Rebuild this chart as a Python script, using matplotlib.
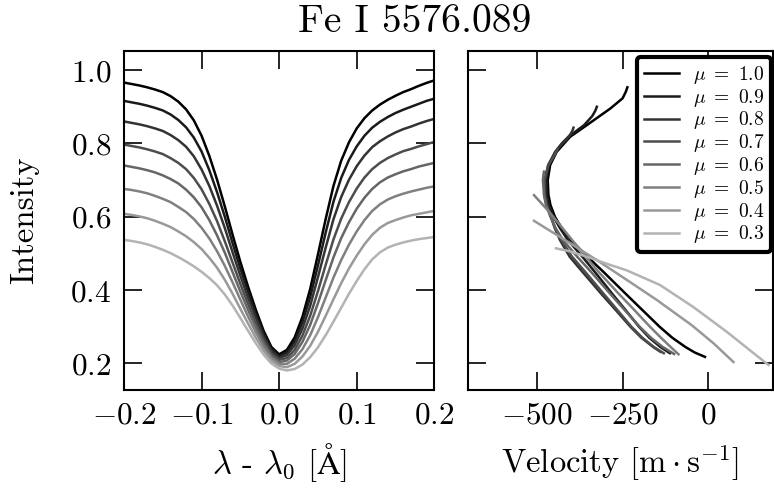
import matplotlib
matplotlib.use('Agg')
import matplotlib.pyplot as plt

plt.rcParams['font.family'] = ['cmr10', 'DejaVu Serif']
plt.rcParams['mathtext.fontset'] = 'cm'
plt.rcParams['axes.formatter.use_mathtext'] = True
plt.rcParams['axes.unicode_minus'] = True

# ---------------- data ----------------
mu_labels = ['1.0', '0.9', '0.8', '0.7', '0.6', '0.5', '0.4', '0.3']
gray_levels = [0.0, 0.1, 0.2, 0.3, 0.4, 0.5, 0.6, 0.7]

wl = [-0.20, -0.19, -0.18, -0.17, -0.16, -0.15, -0.14, -0.13, -0.12, -0.11,
      -0.10, -0.09, -0.08, -0.07, -0.06, -0.05, -0.04, -0.03, -0.02, -0.01,
      0.00, 0.01, 0.02, 0.03, 0.04, 0.05, 0.06, 0.07, 0.08, 0.09,
      0.10, 0.11, 0.12, 0.13, 0.14, 0.15, 0.16, 0.17, 0.18, 0.19, 0.20]

prof_10 = [0.966, 0.962, 0.958, 0.953, 0.947, 0.940, 0.929, 0.914, 0.893, 0.863,
           0.821, 0.766, 0.701, 0.628, 0.551, 0.477, 0.409, 0.346, 0.289, 0.245,
           0.225, 0.237, 0.271, 0.327, 0.403, 0.497, 0.594, 0.684, 0.753, 0.803,
           0.841, 0.869, 0.890, 0.906, 0.919, 0.930, 0.940, 0.948, 0.957, 0.965, 0.972]
prof_09 = [0.916, 0.912, 0.908, 0.903, 0.897, 0.890, 0.879, 0.864, 0.844, 0.816,
           0.778, 0.727, 0.667, 0.600, 0.528, 0.459, 0.395, 0.335, 0.281, 0.240,
           0.220, 0.230, 0.261, 0.312, 0.381, 0.467, 0.557, 0.641, 0.706, 0.755,
           0.792, 0.821, 0.843, 0.859, 0.872, 0.883, 0.892, 0.900, 0.908, 0.916, 0.922]
prof_08 = [0.860, 0.856, 0.852, 0.847, 0.841, 0.834, 0.823, 0.809, 0.791, 0.765,
           0.729, 0.684, 0.630, 0.569, 0.503, 0.439, 0.379, 0.324, 0.273, 0.234,
           0.215, 0.223, 0.250, 0.295, 0.357, 0.435, 0.516, 0.593, 0.654, 0.701,
           0.738, 0.767, 0.790, 0.806, 0.819, 0.830, 0.839, 0.846, 0.854, 0.861, 0.867]
prof_07 = [0.797, 0.793, 0.789, 0.784, 0.778, 0.771, 0.760, 0.747, 0.730, 0.706,
           0.675, 0.635, 0.588, 0.533, 0.475, 0.417, 0.362, 0.310, 0.263, 0.227,
           0.210, 0.215, 0.237, 0.276, 0.330, 0.397, 0.469, 0.538, 0.595, 0.640,
           0.677, 0.707, 0.730, 0.747, 0.760, 0.770, 0.779, 0.785, 0.792, 0.798, 0.804]
prof_06 = [0.740, 0.736, 0.732, 0.727, 0.721, 0.713, 0.703, 0.691, 0.674, 0.653,
           0.626, 0.591, 0.549, 0.502, 0.449, 0.396, 0.346, 0.298, 0.255, 0.221,
           0.204, 0.208, 0.226, 0.259, 0.305, 0.364, 0.427, 0.489, 0.542, 0.585,
           0.622, 0.652, 0.676, 0.694, 0.707, 0.716, 0.724, 0.730, 0.737, 0.742, 0.747]
prof_05 = [0.676, 0.673, 0.669, 0.664, 0.657, 0.649, 0.640, 0.627, 0.613, 0.594,
           0.570, 0.541, 0.506, 0.466, 0.421, 0.374, 0.328, 0.285, 0.245, 0.215,
           0.199, 0.199, 0.213, 0.239, 0.277, 0.326, 0.380, 0.434, 0.482, 0.524,
           0.560, 0.591, 0.616, 0.634, 0.647, 0.656, 0.663, 0.669, 0.674, 0.679, 0.683]
prof_04 = [0.608, 0.605, 0.601, 0.596, 0.589, 0.581, 0.572, 0.560, 0.547, 0.531,
           0.512, 0.488, 0.461, 0.428, 0.390, 0.349, 0.309, 0.270, 0.235, 0.208,
           0.193, 0.190, 0.199, 0.219, 0.248, 0.286, 0.330, 0.375, 0.419, 0.459,
           0.494, 0.525, 0.551, 0.570, 0.583, 0.591, 0.598, 0.604, 0.608, 0.612, 0.616]
prof_03 = [0.537, 0.534, 0.530, 0.525, 0.518, 0.510, 0.501, 0.490, 0.478, 0.465,
           0.450, 0.433, 0.413, 0.388, 0.358, 0.324, 0.289, 0.255, 0.224, 0.200,
           0.186, 0.181, 0.185, 0.197, 0.217, 0.244, 0.277, 0.314, 0.352, 0.390,
           0.425, 0.457, 0.484, 0.503, 0.516, 0.524, 0.530, 0.535, 0.539, 0.542, 0.545]
profiles = [prof_10, prof_09, prof_08, prof_07, prof_06, prof_05, prof_04, prof_03]

# bisectors: intensity levels and velocities [m/s]
bis_I_10 = [0.953, 0.940, 0.923, 0.895, 0.850, 0.818, 0.777, 0.741, 0.700, 0.660, 0.632, 0.600,
            0.570, 0.536, 0.491, 0.450, 0.391, 0.350, 0.300, 0.270, 0.245, 0.230, 0.218]
bis_v_10 = [-236, -241, -250, -286, -354, -403, -442, -461, -468, -466, -460, -447,
            -428, -400, -352, -306, -242, -197, -142, -105, -67, -40, -10]
bis_I_09 = [0.900, 0.890, 0.875, 0.850, 0.818, 0.800, 0.777, 0.741, 0.700, 0.660, 0.632,
            0.600, 0.570, 0.536, 0.491, 0.450, 0.391, 0.350, 0.300, 0.270, 0.245, 0.228]
bis_v_09 = [-325, -329, -338, -362, -408, -427, -446, -465, -472, -470, -464,
            -451, -433, -409, -367, -331, -281, -245, -202, -172, -140, -112]
bis_I_08 = [0.843, 0.835, 0.825, 0.810, 0.800, 0.777, 0.741, 0.700, 0.660, 0.632, 0.600,
            0.570, 0.536, 0.491, 0.450, 0.391, 0.350, 0.300, 0.270, 0.245, 0.232]
bis_v_08 = [-393, -396, -402, -414, -425, -446, -467, -476, -475, -469, -458,
            -448, -432, -404, -367, -313, -274, -227, -195, -161, -140]
bis_I_07 = [0.784, 0.775, 0.765, 0.750, 0.741, 0.700, 0.660, 0.632, 0.600, 0.570,
            0.536, 0.491, 0.450, 0.391, 0.350, 0.300, 0.270, 0.245, 0.228]
bis_v_07 = [-440, -444, -450, -460, -466, -478, -478, -472, -459, -446,
            -428, -397, -359, -306, -269, -224, -192, -159, -130]
bis_I_06 = [0.723, 0.710, 0.700, 0.660, 0.632, 0.600, 0.570, 0.536, 0.491, 0.450,
            0.391, 0.350, 0.300, 0.270, 0.245, 0.226]
bis_v_06 = [-479, -481, -482, -479, -473, -460, -446, -423, -382, -342,
            -287, -248, -200, -167, -133, -100]
bis_I_05 = [0.659, 0.620, 0.582, 0.540, 0.500, 0.450, 0.391, 0.350, 0.300, 0.270, 0.245, 0.225]
bis_v_05 = [-508, -470, -436, -400, -365, -320, -262, -220, -170, -138, -110, -87]
bis_I_04 = [0.589, 0.528, 0.482, 0.420, 0.373, 0.304, 0.255, 0.204]
bis_v_04 = [-508, -403, -325, -225, -150, -48, 15, 73]
bis_I_03 = [0.514, 0.505, 0.491, 0.470, 0.454, 0.414, 0.354, 0.286, 0.227, 0.196]
bis_v_03 = [-444, -400, -354, -290, -238, -141, -44, 54, 133, 175]
bis_I = [bis_I_10, bis_I_09, bis_I_08, bis_I_07, bis_I_06, bis_I_05, bis_I_04, bis_I_03]
bis_v = [bis_v_10, bis_v_09, bis_v_08, bis_v_07, bis_v_06, bis_v_05, bis_v_04, bis_v_03]

left_xticks = [-0.2, -0.1, 0.0, 0.1, 0.2]
left_xticklabels = ['$-0.2$', '$-0.1$', '$0.0$', '$0.1$', '$0.2$']
right_xticks = [-500, -250, 0]
right_xticklabels = ['$-500$', '$-250$', '$0$']
yticks = [0.2, 0.4, 0.6, 0.8, 1.0]
yticklabels = ['$0.2$', '$0.4$', '$0.6$', '$0.8$', '$1.0$']

# ---------------- figure ----------------
fig = plt.figure(figsize=(7.74, 4.93), dpi=100)
ax1 = fig.add_axes([0.1602, 0.2099, 0.4009, 0.6866])
ax2 = fig.add_axes([0.6043, 0.2099, 0.3948, 0.6866], sharey=ax1)

FS = 22.5
lw = 1.8
for prof, g in zip(profiles, gray_levels):
    ax1.plot(wl, prof, color=str(g), lw=lw)
handles = []
for I, v, g, lab in zip(bis_I, bis_v, gray_levels, mu_labels):
    h, = ax2.plot(v, I, color=str(g), lw=lw, label=r'$\mu\ =\ %s$' % lab)
    handles.append(h)

ax1.set_xlim(-0.2, 0.2)
ax1.set_ylim(0.129, 1.052)
ax2.set_xlim(-701, 189)

ax1.set_xticks(left_xticks)
ax1.set_xticklabels(left_xticklabels)
ax1.set_yticks(yticks)
ax1.set_yticklabels(yticklabels)
ax2.set_xticks(right_xticks)
ax2.set_xticklabels(right_xticklabels)

for ax in (ax1, ax2):
    ax.tick_params(direction='in', length=13, width=1.2, top=True, right=True,
                   labelsize=FS, pad=9)
    for s in ax.spines.values():
        s.set_linewidth(1.5)
plt.setp(ax2.get_yticklabels(), visible=False)

ax1.set_ylabel('Intensity', fontsize=23.5, va='center')
ax1.yaxis.set_label_coords(-0.319, 0.5)
ax1.set_xlabel(r'$\lambda$ - $\lambda_0$ [$\mathrm{\AA}$]', fontsize=23.5, va='center')
ax1.xaxis.set_label_coords(0.5, -0.216)
ax2.set_xlabel(r'Velocity [$\mathrm{m\cdot s^{-1}}$]', fontsize=23.5, va='center')
ax2.xaxis.set_label_coords(0.5, -0.216)

fig.text(0.536, 0.955, 'Fe I 5576.089', fontsize=28.5, ha='center', va='center')

leg = ax2.legend(handles=handles, loc='upper right', bbox_to_anchor=(0.9925, 0.982),
                 borderaxespad=0, fontsize=14, frameon=True, fancybox=True,
                 handlelength=1.8, handletextpad=0.7, labelspacing=0.04,
                 borderpad=0.35)
fr = leg.get_frame()
fr.set_edgecolor('black')
fr.set_linewidth(3)
fr.set_alpha(1)

fig.savefig('out.png', dpi=100)
